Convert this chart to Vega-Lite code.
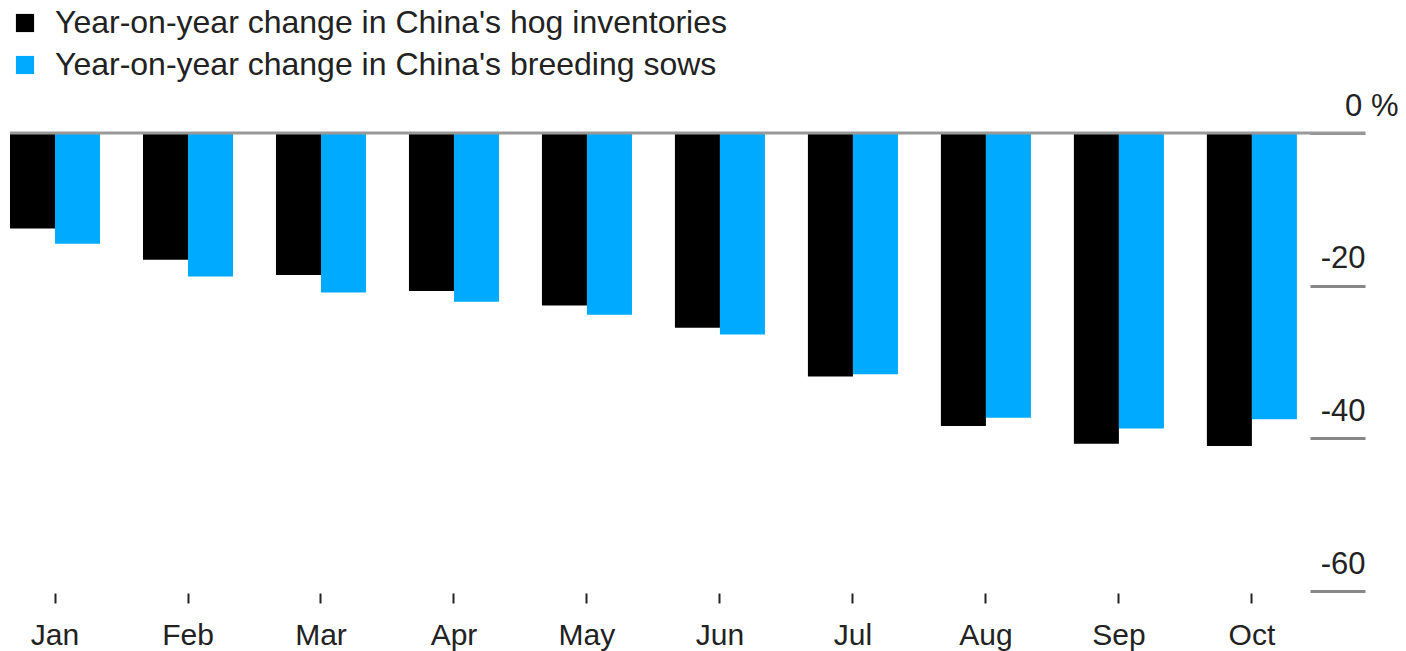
{
  "$schema": "https://vega.github.io/schema/vega-lite/v6.json",
  "width": 1355,
  "height": 458,
  "autosize": {"type": "none"},
  "padding": {"left": 10, "top": 133, "right": 41, "bottom": 60},
  "background": "white",
  "config": {
    "view": {"stroke": null},
    "font": "Liberation Sans",
    "axis": {"labelFont": "Liberation Sans", "labelColor": "#222222"},
    "legend": {"labelFont": "Liberation Sans"}
  },
  "data": {
    "values": [
      {"month": "Jan", "series": "Year-on-year change in China's hog inventories", "value": -12.5},
      {"month": "Jan", "series": "Year-on-year change in China's breeding sows", "value": -14.5},
      {"month": "Feb", "series": "Year-on-year change in China's hog inventories", "value": -16.6},
      {"month": "Feb", "series": "Year-on-year change in China's breeding sows", "value": -18.8},
      {"month": "Mar", "series": "Year-on-year change in China's hog inventories", "value": -18.6},
      {"month": "Mar", "series": "Year-on-year change in China's breeding sows", "value": -20.9},
      {"month": "Apr", "series": "Year-on-year change in China's hog inventories", "value": -20.7},
      {"month": "Apr", "series": "Year-on-year change in China's breeding sows", "value": -22.1},
      {"month": "May", "series": "Year-on-year change in China's hog inventories", "value": -22.6},
      {"month": "May", "series": "Year-on-year change in China's breeding sows", "value": -23.8},
      {"month": "Jun", "series": "Year-on-year change in China's hog inventories", "value": -25.5},
      {"month": "Jun", "series": "Year-on-year change in China's breeding sows", "value": -26.4},
      {"month": "Jul", "series": "Year-on-year change in China's hog inventories", "value": -31.9},
      {"month": "Jul", "series": "Year-on-year change in China's breeding sows", "value": -31.6},
      {"month": "Aug", "series": "Year-on-year change in China's hog inventories", "value": -38.4},
      {"month": "Aug", "series": "Year-on-year change in China's breeding sows", "value": -37.3},
      {"month": "Sep", "series": "Year-on-year change in China's hog inventories", "value": -40.7},
      {"month": "Sep", "series": "Year-on-year change in China's breeding sows", "value": -38.7},
      {"month": "Oct", "series": "Year-on-year change in China's hog inventories", "value": -41.0},
      {"month": "Oct", "series": "Year-on-year change in China's breeding sows", "value": -37.5}
    ]
  },
  "layer": [
    {
      "mark": {"type": "bar", "cornerRadius": 0},
      "encoding": {
        "x": {
          "field": "month", "type": "nominal", "sort": null,
          "scale": {"paddingInner": 0.323, "paddingOuter": 0.256, "align": 0},
          "axis": {
            "title": null, "orient": "bottom", "domain": false, "offset": 2,
            "tickSize": 10, "tickWidth": 2, "tickColor": "#222222",
            "labelFontSize": 30, "labelPadding": 17, "labelAngle": 0
          }
        },
        "xOffset": {"field": "series", "type": "nominal", "sort": null},
        "y": {
          "field": "value", "type": "quantitative",
          "scale": {"domain": [-60, 0], "nice": false},
          "axis": {
            "title": null, "orient": "right", "offset": -55,
            "values": [0, -20, -40, -60], "grid": false, "domain": false,
            "tickSize": 55, "tickWidth": 3, "tickColor": "#888888",
            "labelAlign": "right", "labelBaseline": "alphabetic",
            "labelOffset": -18, "labelFontSize": 31,
            "labelPadding": {"condition": {"test": "datum.value == 0", "value": 33}, "value": 0},
            "labelExpr": "datum.value == 0 ? '0 %' : '' + datum.value"
          }
        },
        "color": {
          "field": "series", "type": "nominal", "sort": null,
          "scale": {"range": ["#000000", "#00aaff"]},
          "legend": {
            "title": null, "orient": "none", "legendX": -1, "legendY": -126, "padding": 0,
            "symbolType": "square", "symbolSize": 330, "symbolStrokeWidth": 0,
            "labelFontSize": 32, "labelColor": "#222222", "labelOffset": 14,
            "rowPadding": 10, "labelLimit": 1000
          }
        }
      }
    },
    {
      "mark": {"type": "rule", "color": "#999999", "strokeWidth": 3},
      "data": {"values": [{"zero": 0}]},
      "encoding": {"y": {"field": "zero", "type": "quantitative"}}
    }
  ]
}
